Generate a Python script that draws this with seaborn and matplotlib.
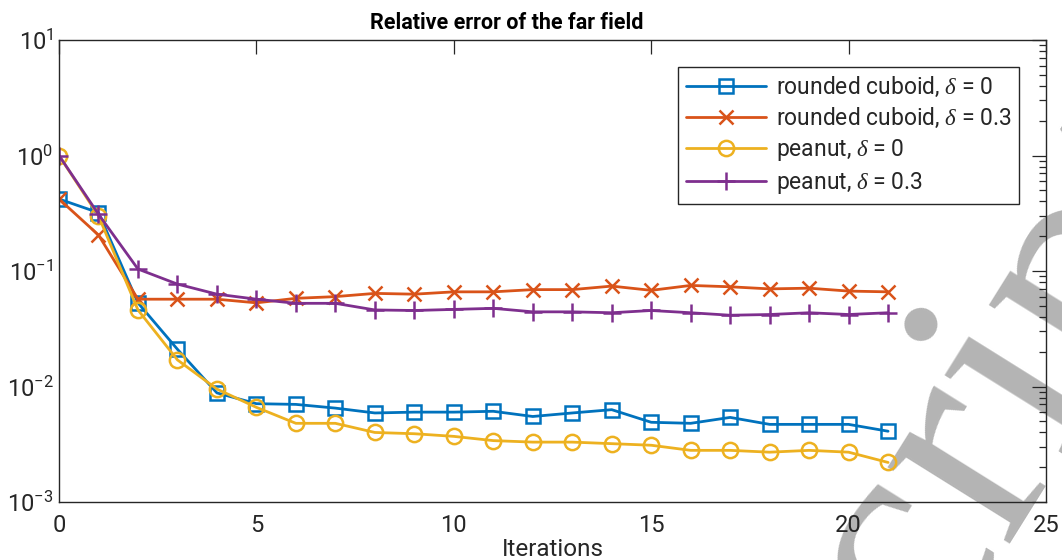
import numpy as np
import pandas as pd
import matplotlib
matplotlib.use("Agg")
import matplotlib.pyplot as plt
import seaborn as sns
from matplotlib.ticker import LogLocator, NullFormatter, FixedLocator

# ---- data ----
iterations = list(range(22))
cuboid_d0 = [0.42, 0.32, 0.053, 0.021, 0.0088, 0.0071, 0.0070, 0.0065, 0.0059, 0.0060, 0.0060,
             0.0061, 0.0055, 0.0059, 0.0063, 0.0049, 0.0048, 0.0054, 0.0047, 0.0047, 0.0047, 0.0041]
cuboid_d03 = [0.42, 0.205, 0.057, 0.057, 0.057, 0.053, 0.058, 0.060, 0.064, 0.063, 0.066,
              0.066, 0.069, 0.069, 0.074, 0.068, 0.075, 0.073, 0.070, 0.071, 0.067, 0.066]
peanut_d0 = [1.0, 0.30, 0.046, 0.017, 0.0095, 0.0066, 0.0048, 0.0048, 0.0040, 0.0039, 0.0037,
             0.0034, 0.0033, 0.0033, 0.0032, 0.0031, 0.0028, 0.0028, 0.0027, 0.0028, 0.0027, 0.0022]
peanut_d03 = [1.0, 0.31, 0.104, 0.077, 0.063, 0.057, 0.0525, 0.0525, 0.046, 0.0455, 0.0465,
              0.0475, 0.0443, 0.0443, 0.0435, 0.0455, 0.0435, 0.0414, 0.042, 0.0435, 0.042, 0.0435]
labels = [r"rounded cuboid, $\mathit{\delta}$ = 0", r"rounded cuboid, $\mathit{\delta}$ = 0.3",
          r"peanut, $\mathit{\delta}$ = 0", r"peanut, $\mathit{\delta}$ = 0.3"]
colors = ["#0072BD", "#D95319", "#EDB120", "#7E2F8E"]
markers = ["s", "x", "o", "+"]
msizes = [9.5, 9.5, 11, 12.5]
title = "Relative error of the far field"
xlabel = "Iterations"

sns.set_style("white")
plt.rcParams["font.family"] = ["Roboto", "DejaVu Sans"]
plt.rcParams["mathtext.fontset"] = "custom"
plt.rcParams["mathtext.rm"] = "Roboto"
plt.rcParams["mathtext.it"] = "Liberation Serif:italic"
plt.rcParams["mathtext.default"] = "rm"

fig = plt.figure(figsize=(10.62, 5.6), dpi=100)
ax = fig.add_axes([59/1062, 1 - 502/560, (1046-59)/1062, (502-40)/560])
ax.set_facecolor("none")

# watermark (behind the axes)
fig.text(0.739, -0.603, "uscript", rotation=58, rotation_mode="anchor", ha="left", va="baseline",
         fontsize=225, family="Liberation Serif", color="#b4b4b4", zorder=-1)

series = [cuboid_d0, cuboid_d03, peanut_d0, peanut_d03]
for vals, lab, c, m, ms in zip(series, labels, colors, markers, msizes):
    df = pd.DataFrame({"x": iterations, "y": vals})
    sns.lineplot(data=df, x="x", y="y", ax=ax, color=c, marker=m, markersize=ms,
                 markerfacecolor="none", markeredgecolor=c, markeredgewidth=1.8,
                 linewidth=2.0, label=lab)

ax.set_yscale("log")
ax.set_xlim(0, 25)
ax.set_ylim(1e-3, 1e1)
ax.set_xticks([0, 5, 10, 15, 20, 25])
ax.yaxis.set_major_locator(FixedLocator([1e-3, 1e-2, 1e-1, 1e0, 1e1]))
ax.yaxis.set_minor_locator(LogLocator(base=10, subs=np.arange(2, 10), numticks=20))
ax.yaxis.set_minor_formatter(NullFormatter())

axc = "#262626"
for s in ax.spines.values():
    s.set_visible(True)
    s.set_color(axc)
    s.set_linewidth(1.0)
ax.tick_params(which="both", direction="in", top=True, right=True, colors=axc,
               labelcolor="#262626", labelsize=17, width=0.9)
ax.tick_params(which="major", length=10)
ax.tick_params(which="minor", length=5)
ax.tick_params(axis="x", pad=9)
ax.tick_params(axis="y", pad=4)

ax.set_xlabel(xlabel, fontsize=17.5, color="#262626", labelpad=0)
ax.set_ylabel("")
ax.set_title(title, fontsize=15.5, fontweight="bold", color="black", pad=8,
             x=(507 - 59) / 987)

leg = ax.legend(loc="upper right", bbox_to_anchor=(0.9727, 0.9416), fontsize=16.5,
                frameon=True, fancybox=False, handlelength=3.5, handletextpad=0.4,
                borderpad=0.35, labelspacing=0.3, borderaxespad=0, framealpha=1)
leg.get_frame().set_edgecolor(axc)
leg.get_frame().set_linewidth(1.0)

fig.savefig("out.png", dpi=100)
